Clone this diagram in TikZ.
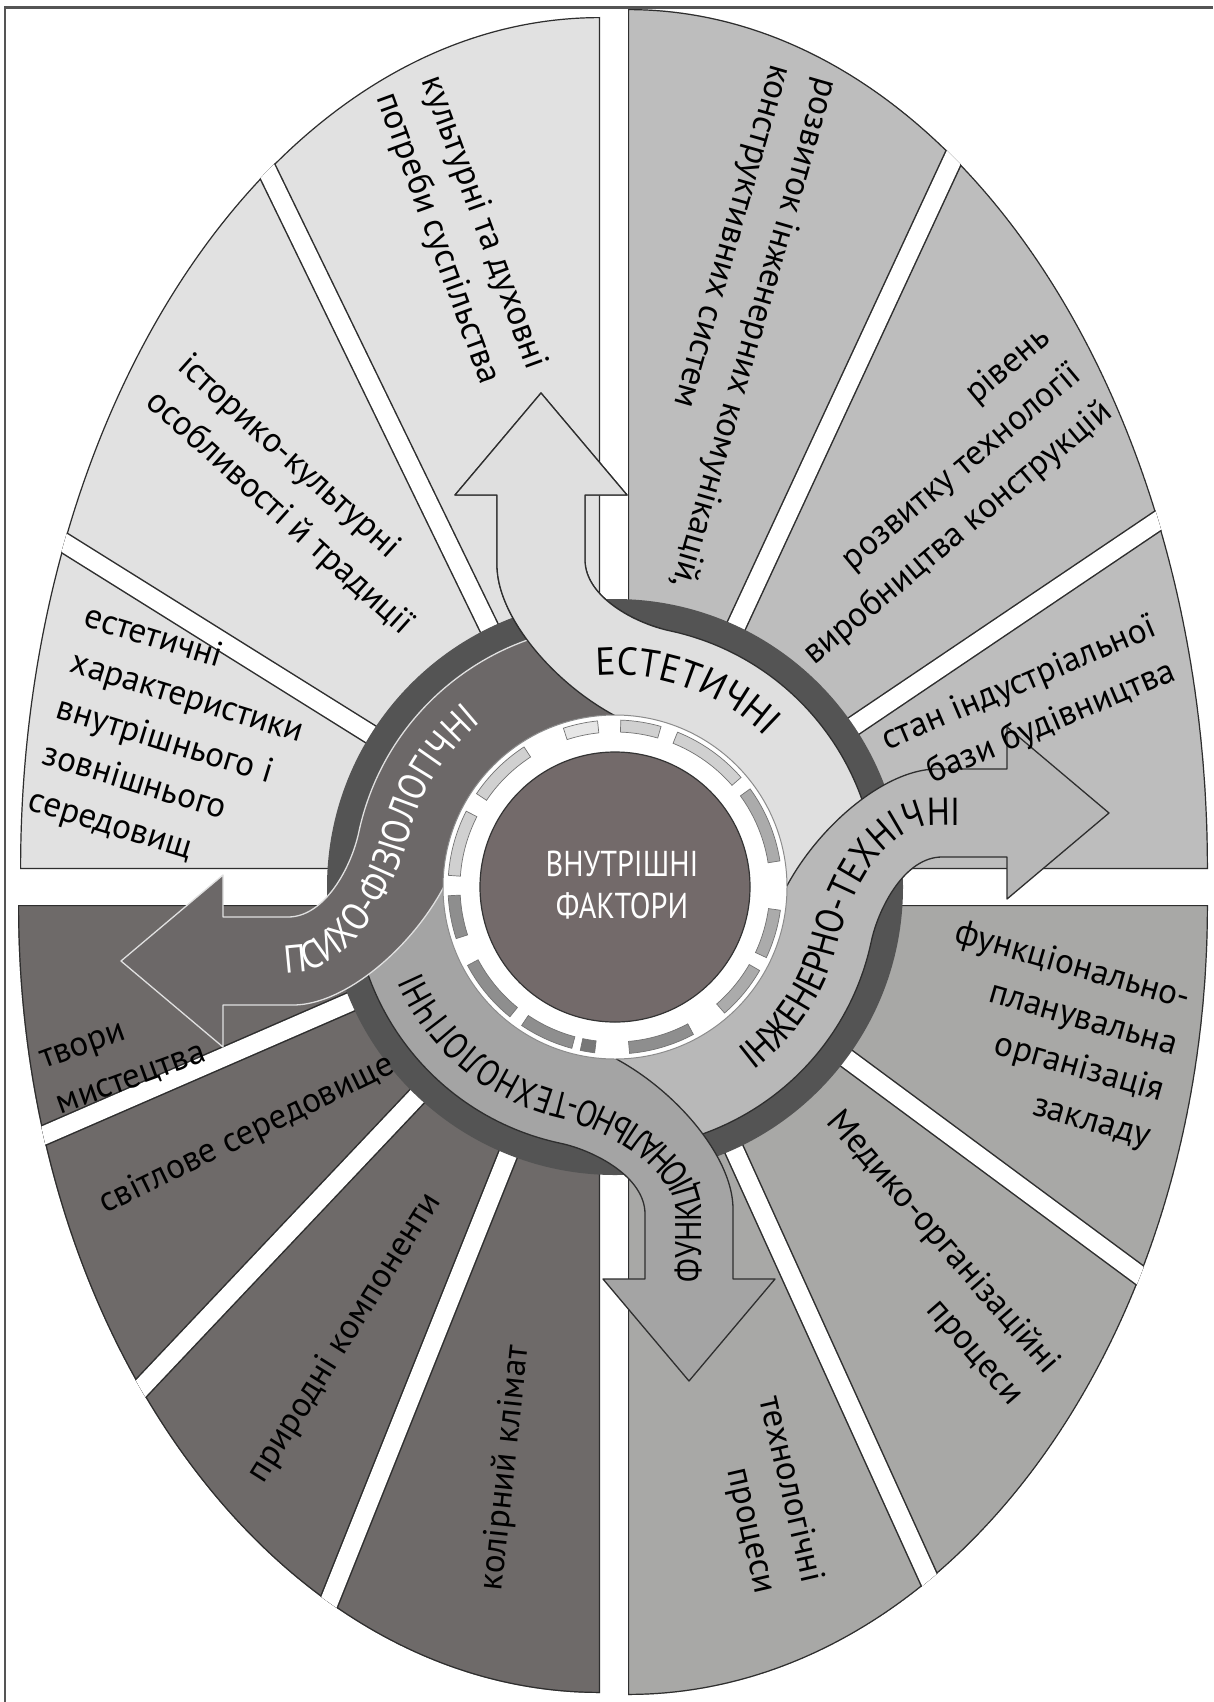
\documentclass[tikz,border=0pt]{standalone}
\usepackage{fontspec}
\setmainfont{PT Sans}
\newfontfamily\narrowfont[FakeStretch=0.84]{PT Sans}
\newfontfamily\bandfam[FakeStretch=0.88]{PT Sans}
\newfontfamily\bandwide[FakeStretch=0.95]{PT Sans}
\newfontfamily\bandtight[FakeStretch=0.82]{PT Sans}
\usetikzlibrary{decorations.text}

\definecolor{fillTL}{HTML}{E1E1E1}
\definecolor{fillTR}{HTML}{BDBDBD}
\definecolor{fillBR}{HTML}{A8A8A6}
\definecolor{fillBL}{HTML}{6E6A69}
\definecolor{ringdark}{HTML}{545454}
\definecolor{corefill}{HTML}{736A6A}
\definecolor{estfill}{HTML}{DFDFDF}
\definecolor{engfill}{HTML}{B8B8B8}
\definecolor{funfill}{HTML}{A4A4A4}
\definecolor{psyfill}{HTML}{6C6868}
\definecolor{framecol}{HTML}{555555}
\definecolor{edgecol}{HTML}{2E2E2E}
\definecolor{gearA}{HTML}{E6E6E6}
\definecolor{gearB}{HTML}{D0D0D0}
\definecolor{gearC}{HTML}{ABABAB}
\definecolor{gearD}{HTML}{8E8E8E}
\definecolor{gearE}{HTML}{777777}

\tikzset{
  sectorlabel/.style={font=\fontsize{35}{48}\selectfont, inner sep=0pt},
  outerline/.style={draw=edgecol, line width=2.4pt},
  gapedge/.style={draw=edgecol, line width=21pt},
  gapwhite/.style={draw=white, line width=18pt},
}

% one quarter of the oval: clip, fill, outline, white separators from the hub
\newcommand{\quadrant}[3]{%
  \begin{scope}
    \clip #1;
    \fill[#2] #1;
    \draw[outerline] #1;
    \foreach \ang in {#3} {
      \draw[gapedge] (615,-887) -- ++(\ang:1100);
      \draw[gapwhite] (615,-887) -- ++(\ang:1100);
    }
  \end{scope}}

% curved arrow leaving the ring, drawn for the exit pointing north
\newcommand{\arrowshape}{(-74,494) -- (12,392) -- (-30,392) -- (-30,327)
  .. controls (-30,290) and (20.3,263.6) .. (78:262)
  arc[start angle=78, end angle=-8, radius=262]
  -- (-8:160)
  arc[start angle=-8, end angle=75, radius=160]
  .. controls (-35.9,175.2) and (-118,260) .. (-118,322)
  -- (-118,392) -- (-160,392) -- cycle}

\newcommand{\putarrow}[3]{%
  \begin{scope}[shift={(615,-887)}, rotate=#1]
    \filldraw[fill=#2, draw=#3, line width=1.3pt, line join=round] \arrowshape;
  \end{scope}}

\begin{document}
\begin{tikzpicture}[x=1pt,y=1pt]
\useasboundingbox (0,0) rectangle (1213,-1702);
\fill[white] (0,0) rectangle (1213,-1702);
\draw[framecol, line width=2.6pt] (5,-1702) -- (5,-7.5) -- (1213,-7.5);

% four quarters of the oval
\quadrant{(600,-869) -- (20,-869) arc[start angle=180, end angle=90, x radius=580, y radius=852] -- cycle}{fillTL}{115.9,148}
\quadrant{(628,-869) -- (628,-9) arc[start angle=90, end angle=0, x radius=580, y radius=860] -- cycle}{fillTR}{65.1,34}
\quadrant{(628,-905) -- (1208,-905) arc[start angle=0, end angle=-90, x radius=580, y radius=790] -- cycle}{fillBR}{-36.5,-65.6}
\quadrant{(600,-905) -- (600,-1693) arc[start angle=-90, end angle=-180, x radius=582, y radius=788] -- cycle}{fillBL}{203.5,226.6,248.2}

% dark ring behind the arrows
\fill[ringdark] (615,-887) circle (288);

% the four curved arrows
\putarrow{0}{estfill}{edgecol}
\putarrow{-90}{engfill}{edgecol}
\putarrow{180}{funfill}{edgecol}
\putarrow{90}{psyfill}{white!88!black}
\begin{scope}
  \clip (0,0) rectangle (662,-887);
  \putarrow{0}{estfill}{edgecol}
\end{scope}

% labels along the arrows
\begin{scope}[shift={(615,-887)}]
  \path[decorate, decoration={text along path, text align=center,
    text={|\bandwide\fontsize{39}{39}\selectfont|ЕСТЕТИЧНІ}}]
    (100:212) arc[start angle=100, end angle=40, radius=212];
\end{scope}
\begin{scope}[shift={(615,-887)}, rotate=-90]
  \path[decorate, decoration={text along path,
    text={|\bandfam\fontsize{39}{39}\selectfont|ІНЖЕНЕРНО-ТЕХНІЧНІ}}]
    (37:230) arc[start angle=37, end angle=76, radius=230]
    .. controls (-2.6,237.7) and (-62,270) .. (-62,325) -- (-62,400);
\end{scope}
\begin{scope}[shift={(615,-887)}, rotate=180]
  \path[decorate, decoration={text along path,
    text={|\bandtight\fontsize{37}{37}\selectfont|ФУНКЦІОНАЛЬНО-ТЕХНОЛОГІЧНІ}}]
    (-86,395) -- (-86,325) .. controls (-86,265) and (-5,219.7) .. (76:212)
    arc[start angle=76, end angle=-5, radius=212];
\end{scope}
\begin{scope}[shift={(615,-887)}, rotate=90]
  \path[decorate, decoration={text along path,
    text={|\bandfam\fontsize{39}{39}\selectfont\color{white}|ПСИХО-ФІЗІОЛОГІЧНІ}}]
    (-86,330) -- (-86,325) .. controls (-86,265) and (-5,219.7) .. (76:212)
    arc[start angle=76, end angle=5, radius=212];
\end{scope}

% white ring with its broken band and the core
\begin{scope}[shift={(615,-887)}]
  \filldraw[fill=white, draw=black!45, line width=1pt] (0,0) circle (172);
  \foreach \a/\b/\c in {9/36/gearC, 41/68/gearB, 74/88/gearB, 96/108/gearA,
      123/146/gearB, 153/176/gearB, 183/198/gearD, 208/231/gearD,
      236/255/gearD, 258/263/gearE, 275/298/gearD, 311/330/gearC, 335/352/gearC}
    \filldraw[fill=\c, draw=black!55, line width=0.7pt]
      (\a:155) arc[start angle=\a, end angle=\b, radius=155]
      -- (\b:167) arc[start angle=\b, end angle=\a, radius=167] -- cycle;
  \filldraw[fill=corefill, draw=black!80, line width=1.2pt] (0,0) circle (135);
\end{scope}
\node[text=white, font=\narrowfont\fontsize{36}{42}\selectfont, align=center,
  inner sep=0pt] (core) at (622,-885) {ВНУТРІШНІ\\ФАКТОРИ};

% sector labels
\node[sectorlabel, anchor=north west, align=left, rotate=-70] (lkult) at (445,-72)
  {культурні та духовні\\потреби суспільства};
\node[sectorlabel, anchor=north west, align=left, rotate=-42] (listor) at (193,-350)
  {історико-культурні\\особливості й традиції};
\node[sectorlabel, anchor=north west, align=left, rotate=-17] (lestet) at (90,-602)
  {естетичні\\характеристики\\внутрішнього і\\зовнішнього\\середовищ};
\node[sectorlabel, anchor=north west, align=left, rotate=-106] (lrozv) at (842,-83)
  {розвиток інженерних комунікацій,\\конструктивних систем};
\node[sectorlabel, anchor=north east, align=right, rotate=40] (lriv) at (1036,-322)
  {рівень\\розвитку технології\\виробництва конструкцій};
\node[sectorlabel, anchor=north east, align=right, rotate=23] (lstan) at (1149,-612)
  {стан індустріальної\\бази будівництва};
\node[sectorlabel, anchor=north east, align=right, rotate=-16] (lfunk) at (1194,-985)
  {функціонально-\\планувальна\\організація\\закладу};
\node[sectorlabel, anchor=north east, align=right, rotate=-49] (lmed) at (1065,-1359)
  {Медико-організаційні\\процеси};
\node[sectorlabel, anchor=north east, align=right, rotate=-77] (ltech) at (827,-1579)
  {технологічні\\процеси};
\node[sectorlabel, anchor=north west, align=left, rotate=20] (ltvory) at (38,-1052)
  {твори\\мистецтва};
\node[sectorlabel, rotate=26] (lsvit) at (247,-1135) {світлове середовище};
\node[sectorlabel, rotate=58] (lpryr) at (345,-1338) {природні компоненти};
\node[sectorlabel, rotate=84] (lkol) at (506,-1468) {колірний клімат};
\end{tikzpicture}
\end{document}
